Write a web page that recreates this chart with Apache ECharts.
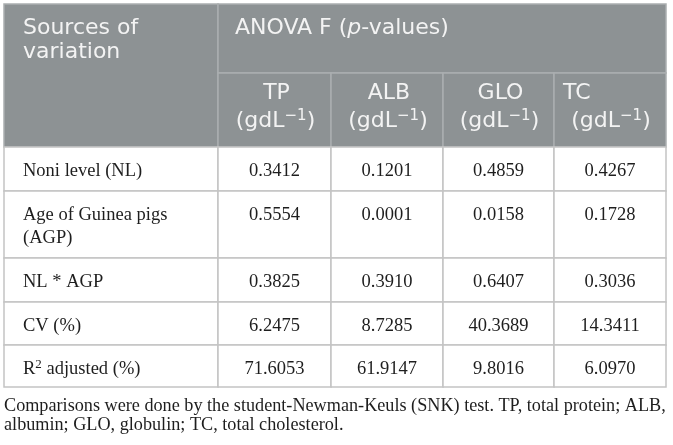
<!DOCTYPE html>
<html>
<head>
<meta charset="utf-8">
<script src="https://cdn.jsdelivr.net/npm/echarts@6/dist/echarts.min.js"></script>
<style>
  html, body { margin: 0; padding: 0; background: #fff; }
  #main { width: 673px; height: 445px; }
</style>
</head>
<body>
<div id="main"></div>
<script>
// table content
const cornerLabel = 'Sources of\nvariation';
const anovaLabel = 'ANOVA F ({it|p}-values)';
const variables = ['TP', 'ALB', 'GLO', 'TC'];
const unitLabel = '(gdL{sup|\u22121})';
const sources = ['Noni level (NL)', 'Age of Guinea pigs\n(AGP)', 'NL * AGP', 'CV (%)', 'R{sup|2} adjusted (%)'];
const tpValues = [0.3412, 0.5554, 0.3825, 6.2475, 71.6053];
const albValues = [0.1201, 0.0001, 0.3910, 8.7285, 61.9147];
const gloValues = [0.4859, 0.0158, 0.6407, 40.3689, 9.8016];
const tcValues = [0.4267, 0.1728, 0.3036, 14.3411, 6.0970];
const footnote = 'Comparisons were done by the student-Newman-Keuls (SNK) test. TP, total protein; ALB,\nalbumin; GLO, globulin; TC, total cholesterol.';

const valueColumns = [tpValues, albValues, gloValues, tcValues];

// layout (pixel units on hidden value axes)
const colWidths = [214, 113, 112, 111, 112];
const rowHeights = [69, 74, 44, 67, 44, 43, 42];
const cum = arr => arr.reduce((acc, w) => { acc.push(acc[acc.length - 1] + w); return acc; }, [0]);
const colEdges = cum(colWidths);
const rowEdges = cum(rowHeights);

const headFont = '"DejaVu Sans", "Open Sans", sans-serif';
const bodyFont = '"Liberation Serif", "Times New Roman", serif';
const headBg = '#8d9294';
const headText = '#f3f3f3';
const headLine = '#aaaeb0';
const bodyLine = '#c4c4c4';
const bodyText = '#1e1e1e';

// cells: column span, row span, kind, text
const cells = [];
cells.push({ c: [0, 1], r: [0, 2], kind: 'corner', text: cornerLabel });
cells.push({ c: [1, 5], r: [0, 1], kind: 'anova', text: anovaLabel });
variables.forEach((v, i) => {
  cells.push({ c: [i + 1, i + 2], r: [1, 2], kind: 'var', text: v, idx: i });
});
sources.forEach((s, r) => {
  cells.push({ c: [0, 1], r: [r + 2, r + 3], kind: 'label', text: s });
  valueColumns.forEach((col, i) => {
    cells.push({ c: [i + 1, i + 2], r: [r + 2, r + 3], kind: 'value', text: col[r].toFixed(4) });
  });
});

function renderCell(params, api) {
  const cell = cells[params.dataIndex];
  const p0 = api.coord([colEdges[cell.c[0]], rowEdges[cell.r[0]]]);
  const p1 = api.coord([colEdges[cell.c[1]], rowEdges[cell.r[1]]]);
  const w = p1[0] - p0[0];
  const h = p1[1] - p0[1];
  const isHead = cell.kind === 'corner' || cell.kind === 'anova' || cell.kind === 'var';
  const children = [{
    type: 'rect',
    shape: { x: p0[0], y: p0[1], width: w, height: h },
    style: { fill: isHead ? headBg : '#fff', stroke: isHead ? headLine : bodyLine, lineWidth: 1.5 }
  }];
  const headStyle = { fill: headText, fontFamily: headFont, fontSize: 22, lineHeight: 24 };
  if (cell.kind === 'corner') {
    children.push({ type: 'text', style: Object.assign({}, headStyle, {
      text: cell.text, x: p0[0] + 19, y: p0[1] + 12, align: 'left', verticalAlign: 'top'
    }) });
  } else if (cell.kind === 'anova') {
    children.push({ type: 'text', style: Object.assign({}, headStyle, {
      text: cell.text, x: p0[0] + 17, y: p0[1] + 24, align: 'left', verticalAlign: 'middle',
      rich: { it: { fontStyle: 'italic', fill: headText, fontFamily: headFont, fontSize: 22 } }
    }) });
  } else if (cell.kind === 'var') {
    const left = cell.idx === 3;
    children.push({ type: 'text', style: Object.assign({}, headStyle, {
      text: cell.text, x: left ? p0[0] + 9 : p0[0] + w / 2 + 2, y: p0[1] + 20,
      align: left ? 'left' : 'center', verticalAlign: 'middle'
    }) });
    children.push({ type: 'text', style: Object.assign({}, headStyle, {
      text: unitLabel, x: p0[0] + w / 2 + 1, y: p0[1] + 48, align: 'center', verticalAlign: 'middle',
      rich: { sup: { fontSize: 15, fill: headText, fontFamily: headFont, padding: [0, 0, 10, 0] } }
    }) });
  } else {
    const isLabel = cell.kind === 'label';
    children.push({ type: 'text', style: {
      text: cell.text, x: isLabel ? p0[0] + 19 : p0[0] + w / 2, y: p0[1] + 13,
      align: isLabel ? 'left' : 'center', verticalAlign: 'top',
      fill: bodyText, fontFamily: bodyFont, fontSize: 18.5, lineHeight: 23,
      rich: { sup: { fontSize: 13, fill: bodyText, fontFamily: bodyFont, padding: [0, 0, 9, 0] } }
    } });
  }
  return { type: 'group', children: children };
}

const chart = echarts.init(document.getElementById('main'));
chart.setOption({
  animation: false,
  title: {
    text: footnote,
    left: 4,
    top: 397,
    padding: 0,
    textStyle: { fontFamily: bodyFont, fontSize: 18.2, fontWeight: 'normal', color: bodyText, lineHeight: 19 }
  },
  grid: { left: 4, top: 4, width: colEdges[colEdges.length - 1], height: rowEdges[rowEdges.length - 1] },
  xAxis: { type: 'value', min: 0, max: colEdges[colEdges.length - 1], show: false },
  yAxis: { type: 'value', min: 0, max: rowEdges[rowEdges.length - 1], inverse: true, show: false },
  series: [{
    type: 'custom',
    renderItem: renderCell,
    data: cells.map((c, i) => i),
    silent: true
  }]
});
</script>
</body>
</html>
